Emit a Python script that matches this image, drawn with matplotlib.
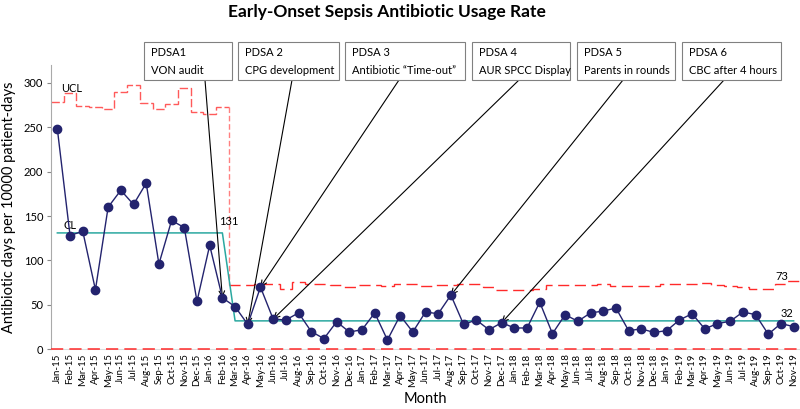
import numpy as np
import matplotlib.pyplot as plt
from matplotlib.patches import Rectangle

plt.rcParams['font.family'] = ['Lato', 'DejaVu Sans']

# Данные
mesyacy = ['Jan', 'Feb', 'Mar', 'Apr', 'May', 'Jun', 'Jul', 'Aug', 'Sep', 'Oct', 'Nov', 'Dec']
metki = [m + '-' + g for g in ['15', '16', '17', '18', '19'] for m in mesyacy][:59]

rate = [248, 128, 133, 67, 160, 179, 163, 187, 96, 145, 137, 54,
        117, 58, 48, 28, 70, 34, 33, 41, 20, 12, 31, 19.5,
        22, 41, 10.5, 38, 19.5, 42, 40, 61, 28, 33, 22, 30,
        24, 24, 53, 17.6, 39, 31.5, 41, 43, 46.5, 21, 23, 19,
        21, 33, 40, 23, 29, 31.5, 42, 39, 17, 29, 25.5]

cl = [131] * 14 + [32] * 45

ucl_do = [278, 289, 274, 273, 270, 290, 297, 277, 271, 276, 294, 267, 265, 272.5]
ucl_posle = [72, 72, 73, 73, 68, 76, 74, 74, 72, 70, 72, 72, 71, 73, 73,
             71, 72, 72, 73, 73, 70, 67, 67, 67, 68, 72, 72, 72, 72, 73,
             71, 71, 71, 71, 73, 73, 73, 75, 72, 71, 70, 68, 68, 73, 77]

lcl = [0] * 59

pdsa_teksty = [('PDSA1', 'VON audit'), ('PDSA 2', 'CPG development'),
               ('PDSA 3', 'Antibiotic \u201cTime-out\u201d'), ('PDSA 4', 'AUR SPCC Display'),
               ('PDSA 5', 'Parents in rounds'), ('PDSA 6', 'CBC after 4 hours')]
pdsa_mesyac = [13, 15, 16, 17, 31, 35]

# положение рамок в пикселях (лево, право, начало стрелки)
ramki = [(144, 232, 205), (238, 339, 292), (345, 465, 399),
         (472, 570, 519), (577, 675, 623), (682, 781, 724)]

W, H = 800, 409
fig = plt.figure(figsize=(8, 4.09), dpi=100)
ax = fig.add_axes([51 / W, 1 - 349.3 / H, 749 / W, 284.3 / H])

x = np.arange(len(rate))
kras = '#ff2a2a'
ax.stairs(ucl_do, np.arange(-0.5, 14), baseline=None, color='#ff5a5a', ls=(0, (6, 2)), lw=1)
ax.stairs(ucl_posle, np.arange(13.5, 59), baseline=None, color=kras, ls=(0, (8, 4)), lw=1)
ax.plot([13.5, 13.5], [ucl_do[-1], ucl_posle[0]], color='#ff8080', ls=(0, (4, 2)), lw=1)
ax.stairs(lcl, np.arange(-0.5, 59), baseline=None, color=kras, ls=(0, (8, 4)),
          lw=1.1, zorder=3, clip_on=False)
ax.plot(x, cl, color='#2aa8a0', lw=1.1)
ax.plot(x, rate, color='#23236e', lw=1, marker='o', ms=6, zorder=4)

ax.set_xlim(-0.5, 58.5)
ax.set_ylim(0, 320)
ax.set_yticks(range(0, 301, 50))
ax.set_xticks(x)
ax.set_xticklabels(metki, rotation=90, fontsize=7)
ax.tick_params(axis='y', labelsize=8, length=3, pad=2.5, color='#888888')
ax.tick_params(axis='x', length=0, pad=3)
for s in ['top', 'right']:
    ax.spines[s].set_visible(False)
ax.spines['left'].set_color('#aaaaaa')
ax.spines['bottom'].set_color('#dddddd')
ax.set_ylabel('Antibiotic days per 10000 patient-days', fontsize=10.5, labelpad=6)
fig.text(425 / W, 1 - 399 / H, 'Month', fontsize=10.5, ha='center', va='center')

ax.text(0.3, 293, 'UCL', fontsize=8, va='center')
ax.text(0.5, 139, 'CL', fontsize=8, va='center')
ax.text(12.7, 144, '131', fontsize=8, va='center')
ax.text(56.6, 82, '73', fontsize=8, va='center')
ax.text(57, 40, '32', fontsize=8, va='center')

fig.text(387 / W, 1 - 12 / H, 'Early-Onset Sepsis Antibiotic Usage Rate',
         fontsize=12.5, fontweight='bold', ha='center', va='center')

for (l, r, s), (t1, t2), m in zip(ramki, pdsa_teksty, pdsa_mesyac):
    fig.add_artist(Rectangle((l / W, 1 - 80 / H), (r - l) / W, 38 / H,
                             transform=fig.transFigure, facecolor='white',
                             edgecolor='#808080', lw=0.8))
    fig.text((l + 7) / W, 1 - 52 / H, t1, fontsize=8, va='center')
    fig.text((l + 7) / W, 1 - 70 / H, t2, fontsize=8, va='center')
    ax.annotate('', xy=(m, rate[m]), xycoords='data',
                xytext=(s / W, 1 - 80 / H), textcoords='figure fraction',
                arrowprops=dict(arrowstyle='->', color='black', lw=0.8,
                                shrinkA=0, shrinkB=0))

plt.savefig('out.png', dpi=100)
